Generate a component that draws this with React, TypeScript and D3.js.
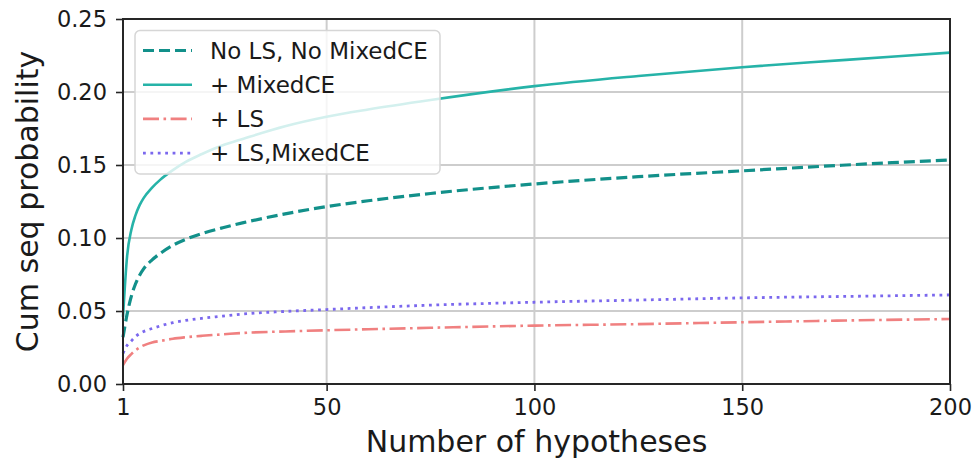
import React, { useEffect, useRef } from "react";
import * as d3 from "d3";

// values
const hypotheses = [1, 2, 3, 4, 5, 6, 8, 10, 13, 16, 20, 25, 30, 40, 50, 60, 75, 100, 125, 150, 175, 200];
const noLsNoMixed = [0.032, 0.048, 0.06, 0.0685, 0.0745, 0.079, 0.085, 0.0895, 0.095, 0.099, 0.103, 0.107, 0.1105, 0.1165, 0.1215, 0.1255, 0.1305, 0.137, 0.142, 0.146, 0.15, 0.1535];
const mixedCE = [0.046, 0.088, 0.1055, 0.1155, 0.1225, 0.1275, 0.1345, 0.14, 0.1465, 0.152, 0.1575, 0.1635, 0.168, 0.1765, 0.183, 0.188, 0.1945, 0.204, 0.211, 0.217, 0.222, 0.227];
const lsOnly = [0.013, 0.0175, 0.0205, 0.023, 0.025, 0.0265, 0.0285, 0.0295, 0.031, 0.032, 0.033, 0.034, 0.035, 0.036, 0.0368, 0.0375, 0.0385, 0.04, 0.041, 0.0423, 0.0435, 0.0445];
const lsMixedCE = [0.021, 0.0265, 0.0295, 0.0325, 0.0345, 0.036, 0.038, 0.0398, 0.042, 0.0435, 0.045, 0.0465, 0.048, 0.0497, 0.051, 0.0523, 0.054, 0.056, 0.0575, 0.059, 0.06, 0.061];
const seriesNames = ["No LS, No MixedCE", "+ MixedCE", "+ LS", "+ LS,MixedCE"];
const xTicks = [1, 50, 100, 150, 200];
const yTicks = [0, 0.05, 0.1, 0.15, 0.2, 0.25];

const W = 973;
const H = 461;
const margin = { top: 19, right: 23, bottom: 77, left: 123 };
const font = "'DejaVu Sans', sans-serif";

const styles = [
  { color: "#12908a", width: 3.2, dash: "11,5" },
  { color: "#26b3a8", width: 2.6, dash: null },
  { color: "#f08080", width: 2.6, dash: "16,4.5,2.6,4.5" },
  { color: "#7b68ee", width: 2.8, dash: "2.8,4.6" },
];

export default function App() {
  const svgRef = useRef(null);

  useEffect(() => {
    const svg = d3.select(svgRef.current);
    svg.selectAll("*").remove();

    const x = d3.scaleLinear().domain([1, 200]).range([margin.left, W - margin.right]);
    const y = d3.scaleLinear().domain([0, 0.25]).range([H - margin.bottom, margin.top]);

    const series = [noLsNoMixed, mixedCE, lsOnly, lsMixedCE];

    // grid
    svg.append("g")
      .selectAll("line.gx")
      .data(xTicks)
      .enter()
      .append("line")
      .attr("x1", d => x(d)).attr("x2", d => x(d))
      .attr("y1", margin.top).attr("y2", H - margin.bottom)
      .attr("stroke", "#cdcdcd").attr("stroke-width", 2);
    svg.append("g")
      .selectAll("line.gy")
      .data(yTicks)
      .enter()
      .append("line")
      .attr("x1", margin.left).attr("x2", W - margin.right)
      .attr("y1", d => y(d)).attr("y2", d => y(d))
      .attr("stroke", "#cdcdcd").attr("stroke-width", 2);

    const line = d3.line()
      .x((d, i) => x(hypotheses[i]))
      .y(d => y(d))
      .curve(d3.curveMonotoneX);

    series.forEach((vals, i) => {
      svg.append("path")
        .attr("d", line(vals))
        .attr("fill", "none")
        .attr("stroke", styles[i].color)
        .attr("stroke-width", styles[i].width)
        .attr("stroke-dasharray", styles[i].dash);
    });

    // frame
    svg.append("rect")
      .attr("x", margin.left).attr("y", margin.top)
      .attr("width", W - margin.left - margin.right)
      .attr("height", H - margin.top - margin.bottom)
      .attr("fill", "none").attr("stroke", "#262626").attr("stroke-width", 2);

    // axes
    const xAxis = svg.append("g")
      .attr("transform", `translate(0,${H - margin.bottom})`)
      .call(d3.axisBottom(x).tickValues(xTicks).tickSize(7).tickPadding(8).tickFormat(d3.format("d")));
    const yAxis = svg.append("g")
      .attr("transform", `translate(${margin.left},0)`)
      .call(d3.axisLeft(y).tickValues(yTicks).tickSize(7).tickPadding(9).tickFormat(d3.format(".2f")));
    [xAxis, yAxis].forEach(g => {
      g.select(".domain").remove();
      g.selectAll("line").attr("stroke", "#262626").attr("stroke-width", 1.6);
      g.selectAll("text").attr("font-family", font).attr("font-size", 22.5).attr("fill", "#1a1a1a");
    });

    svg.append("text")
      .attr("x", (margin.left + W - margin.right) / 2)
      .attr("y", 452)
      .attr("text-anchor", "middle")
      .attr("font-family", font).attr("font-size", 30).attr("fill", "#1a1a1a")
      .text("Number of hypotheses");
    svg.append("text")
      .attr("transform", `translate(38,${(margin.top + H - margin.bottom) / 2}) rotate(-90)`)
      .attr("text-anchor", "middle")
      .attr("font-family", font).attr("font-size", 30).attr("fill", "#1a1a1a")
      .text("Cum seq probability");

    // legend
    const legend = svg.append("g");
    legend.append("rect")
      .attr("x", 135).attr("y", 30.5).attr("width", 305).attr("height", 143.5)
      .attr("rx", 5)
      .attr("fill", "rgba(255,255,255,0.8)")
      .attr("stroke", "#d6d6d6").attr("stroke-width", 1.5);
    seriesNames.forEach((name, i) => {
      const cy = 50.5 + i * 34.2;
      legend.append("line")
        .attr("x1", 143).attr("x2", 192).attr("y1", cy).attr("y2", cy)
        .attr("stroke", styles[i].color)
        .attr("stroke-width", styles[i].width)
        .attr("stroke-dasharray", styles[i].dash);
      legend.append("text")
        .attr("x", 210).attr("y", cy)
        .attr("dy", "0.36em")
        .attr("font-family", font).attr("font-size", 23).attr("fill", "#1a1a1a")
        .text(name);
    });
  }, []);

  return (
    <svg ref={svgRef} width={W} height={H} style={{ position: "absolute", left: 0, top: 0, background: "#fff" }} />
  );
}
